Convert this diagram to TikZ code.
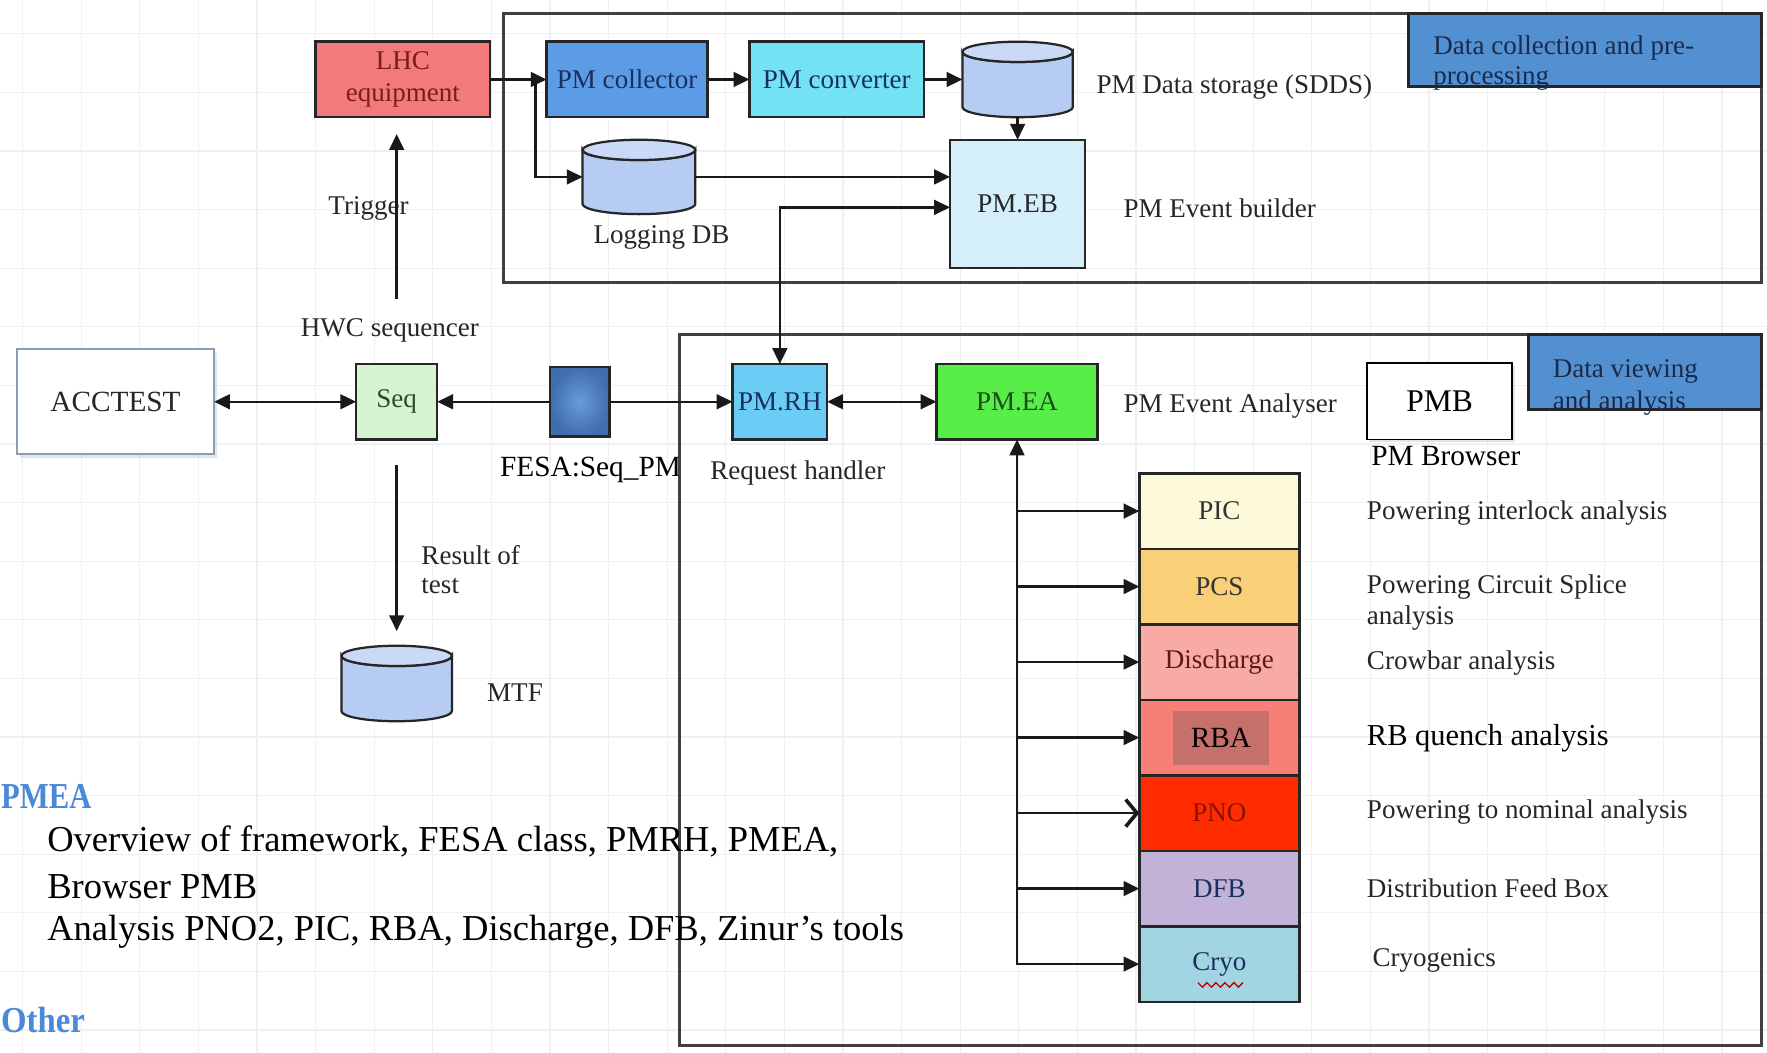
\documentclass[tikz,border=0pt]{standalone}
\usepackage{fontspec}
\setmainfont{Liberation Serif}
\usetikzlibrary{arrows.meta,shadows}
\definecolor{lhcfill}{HTML}{F27A7A}
\definecolor{lhctext}{HTML}{7A1C1C}
\definecolor{colfill}{HTML}{5C9CE6}
\definecolor{navytext}{HTML}{1B2F5E}
\definecolor{convfill}{HTML}{72E2F4}
\definecolor{cylbody}{HTML}{B6CCF2}
\definecolor{cyltop}{HTML}{CADAF6}
\definecolor{ebfill}{HTML}{D4EEFA}
\definecolor{lblfill}{HTML}{5390D2}
\definecolor{lbltext}{HTML}{1A2A4A}
\definecolor{accborder}{HTML}{8C9CB2}
\definecolor{seqfill}{HTML}{D5F4CF}
\definecolor{seqtext}{HTML}{2F4A2F}
\definecolor{fesain}{HTML}{6A9AD8}
\definecolor{fesaout}{HTML}{3F6DB0}
\definecolor{rhfill}{HTML}{6ACDF5}
\definecolor{eafill}{HTML}{57EE47}
\definecolor{eatext}{HTML}{1E4A1E}
\definecolor{picfill}{HTML}{FDFADA}
\definecolor{pcsfill}{HTML}{F9CF78}
\definecolor{disfill}{HTML}{F8ABA4}
\definecolor{distext}{HTML}{5A1A1A}
\definecolor{rbafill}{HTML}{F77F77}
\definecolor{rbainner}{HTML}{C5706A}
\definecolor{pnofill}{HTML}{FF2C00}
\definecolor{pnotext}{HTML}{8A1200}
\definecolor{dfbfill}{HTML}{C3B2D8}
\definecolor{cryofill}{HTML}{A2D5E2}
\definecolor{headblue}{HTML}{4A88D8}
\definecolor{gridc}{HTML}{EEF0F2}
\newcommand{\drawcyl}[5]{%
  \node[minimum width=#5*2pt, minimum height=#4pt] (#1) at (#2,#3) {};
  \draw[cylst] ([xshift=-#5pt,yshift=-4.5pt]#1.north) -- ([xshift=-#5pt,yshift=4.5pt]#1.south)
     arc[start angle=180,end angle=360,x radius=#5pt,y radius=4.5pt]
     -- ([xshift=#5pt,yshift=-4.5pt]#1.north)
     arc[start angle=0,end angle=-180,x radius=#5pt,y radius=4.5pt] -- cycle;
  \draw[cylst,fill=cyltop] ([yshift=-4.5pt]#1.north) ellipse[x radius=#5pt,y radius=4.5pt];
}
\begin{document}
\begin{tikzpicture}[x=0.5pt,y=-0.5pt,
  every node/.style={inner sep=0pt,outer sep=0pt,font=\fontsize{12}{14}\selectfont,text=black!85},
  sz/.style 2 args={minimum width=#1*0.5pt,minimum height=#2*0.5pt},
  box/.style={draw=black!85,line width=1.1pt},
  frm/.style={draw=black!75,line width=1.3pt},
  lblbox/.style={draw=black!85,line width=1.3pt,fill=lblfill},
  arr/.style={draw=black!90,line width=1.1pt,-{Triangle[length=7pt,width=6.5pt]}},
  darr/.style={draw=black!90,line width=1.1pt,{Triangle[length=7pt,width=6.5pt]}-{Triangle[length=7pt,width=6.5pt]}},
  cylst/.style={draw=black!85,line width=1pt,fill=cylbody},
  stk/.style={box,sz={142}{67}},
  crisp/.style={font=\fontsize{13}{15}\selectfont,text=black},
  big/.style={font=\fontsize{16.2}{19}\selectfont,text=black},
  head/.style={font=\fontsize{16.2}{19}\selectfont\bfseries,text=headblue},
]
\useasboundingbox (0,0) rectangle (1568,934);
\fill[white] (0,0) rectangle (1568,934);
\foreach \gx in {20,72,...,1568} \draw[gridc,line width=0.5pt] (\gx,0) -- (\gx,934);
\foreach \gy in {30,82,...,934} \draw[gridc,line width=0.5pt] (0,\gy) -- (1568,\gy);

% ---------- top frame ----------
\draw[frm] (447,12) rectangle (1563,251);
\node[lblbox,sz={313}{65}] (lbl1) at (1406.5,44.5) {};
\node[anchor=base west,text=lbltext] (lbl1a) at (1272,48) {Data collection and pre-};
\node[anchor=base west,text=lbltext] (lbl1b) at (1272,75) {processing};

\node[box,sz={155}{67},fill=lhcfill,text=lhctext,align=center,font=\fontsize{12}{14.5}\selectfont] (lhc) at (357.5,70.5) {LHC\\equipment};
\node[box,sz={143}{67},fill=colfill,text=navytext] (col) at (556.5,70.5) {PM collector};
\node[box,sz={155}{67},fill=convfill,text=navytext] (conv) at (742.5,70.5) {PM converter};
\drawcyl{store}{903}{70.5}{33.5}{24.5}
\node[anchor=west] (storelbl) at (973,77) {PM Data storage (SDDS)};
\drawcyl{ldb}{567}{157}{33}{25}
\node (ldblbl) at (587,211) {Logging DB};
\node[box,sz={120}{114},fill=ebfill] (eb) at (903,181) {PM.EB};
\node[anchor=west] (eblbl) at (997,185) {PM Event builder};

\coordinate (br) at (475,70.5);
\draw[arr] (lhc) -- (col);
\draw[arr] (br) |- (ldb);
\draw[arr] (col) -- (conv);
\draw[arr] (conv) -- (store);
\draw[arr] (store) -- (eb);
\draw[arr] (ldb.east) -- (ldb.east -| eb.west);

% ---------- left part ----------
\node (trig) at (327,185) {Trigger};
\node (hwc) at (346,293) {HWC sequencer};
\coordinate (trigS) at (352,265);
\draw[arr,shorten >=7.5pt] (trigS) -- (lhc.south -| trigS);

\node[draw=accborder,line width=1pt,fill=white,sz={175}{93},font=\fontsize{13}{15}\selectfont,
  drop shadow={opacity=0.25,shadow xshift=1.5pt,shadow yshift=-1.5pt,fill=accborder}] (acc) at (102.5,356.5) {ACCTEST};
\node[box,sz={72}{67},fill=seqfill,text=seqtext] (seq) at (352,356.5) {Seq};
\node[draw=black!85,line width=1.1pt,inner color=fesain,outer color=fesaout,sz={53}{62}] (fesa) at (514.5,356.5) {};
\node[crisp] (fesalbl) at (524,417) {FESA:Seq\_PM};
\draw[darr] (acc) -- (seq);
\draw[arr] (fesa) -- (seq);

\coordinate (resS) at (352,413);
\node[anchor=base west] (res1) at (374,501) {Result of};
\node[anchor=base west] (res2) at (374,527) {test};
\drawcyl{mtf}{352}{606.5}{33.5}{24.5}
\draw[arr,shorten >=6.5pt] (resS) -- (mtf.north);
\node (mtflbl) at (457,615) {MTF};

% ---------- bottom frame ----------
\draw[frm] (603,297) rectangle (1563,928);
\node[lblbox,sz={207}{66}] (lbl2) at (1459.5,330) {};
\node[anchor=base west,text=lbltext] (lbl2a) at (1378,335) {Data viewing};
\node[anchor=base west,text=lbltext] (lbl2b) at (1378,363) {and analysis};

\node[box,sz={84}{67},fill=rhfill,text=navytext] (rh) at (692,356.5) {PM.RH};
\node[box,sz={143}{67},fill=eafill,text=eatext] (ea) at (902.5,356.5) {PM.EA};
\node (rhlbl) at (708,420) {Request handler};
\node[anchor=west] (ealbl) at (997,360) {PM Event Analyser};
\node[draw=black,line width=0.8pt,fill=white,sz={129}{68},font=\fontsize{14}{16}\selectfont,text=black,
  drop shadow={opacity=0.2,shadow xshift=1.2pt,shadow yshift=-1.2pt}] (pmb) at (1277.5,356) {PMB};
\node[crisp] (pmblbl) at (1283,405) {PM Browser};

\draw[arr] (fesa) -- (rh);
\draw[darr] (rh) -- (ea);
\draw[darr] (rh.north) |- ([yshift=-1.5pt]eb.west);

% stack
\node[stk,fill=picfill,text=black!80] (pic) at (1082,453.5) {PIC};
\node[stk,fill=pcsfill,text=black!80] (pcs) at (1082,520.5) {PCS};
\node[stk,fill=disfill,text=distext] (dis) at (1082,587.5) {Discharge};
\node[stk,fill=rbafill] (rba) at (1082,654.5) {};
\node[fill=rbainner,sz={85}{48},crisp] (rbatxt) at (1083.5,655) {RBA};
\node[stk,fill=pnofill,text=pnotext] (pno) at (1082,721.5) {PNO};
\node[stk,fill=dfbfill,text=navytext] (dfb) at (1082,788.5) {DFB};
\node[stk,fill=cryofill,text=navytext] (cryo) at (1082,855.5) {Cryo};
\draw[red!75!black,line width=0.6pt] (1063,872) -- (1067,876) -- (1071,872) -- (1075,876) -- (1079,872) -- (1083,876) -- (1087,872) -- (1091,876) -- (1095,872) -- (1099,876) -- (1103,872);

\draw[darr] (ea.south) |- (cryo.west);
\foreach \n in {pic,pcs,dis,rba,dfb} \draw[arr] (ea.south |- \n.west) -- (\n.west);
\draw[draw=black!90,line width=1.1pt,-{Straight Barb[length=5pt,width=12pt,line width=1.6pt]}] (ea.south |- pno.west) -- (pno.west);

\node[anchor=west] (l1) at (1213,455) {Powering interlock analysis};
\node[anchor=base west] (l2a) at (1213,527) {Powering Circuit Splice};
\node[anchor=base west] (l2b) at (1213,554) {analysis};
\node[anchor=west] (l3) at (1213,588) {Crowbar analysis};
\node[anchor=west,crisp,font=\fontsize{13.5}{16}\selectfont] (l4) at (1213,655) {RB quench analysis};
\node[anchor=west] (l5) at (1213,721) {Powering to nominal analysis};
\node[anchor=west] (l6) at (1213,788) {Distribution Feed Box};
\node[anchor=west] (l7) at (1218,852) {Cryogenics};

% ---------- bottom-left text ----------
\node[head,anchor=west] (h1) at (1,707) {\scalebox{0.84}[1]{PMEA}};
\node[big,anchor=west] (t1) at (42,747) {Overview of framework, FESA class, PMRH, PMEA,};
\node[big,anchor=west] (t2) at (42,787) {Browser PMB};
\node[big,anchor=west] (t3) at (42,827) {Analysis PNO2, PIC, RBA, Discharge, DFB, Zinur’s tools};
\node[head,anchor=west] (h2) at (1,905) {\scalebox{0.9}[1]{Other}};
\end{tikzpicture}
\end{document}
